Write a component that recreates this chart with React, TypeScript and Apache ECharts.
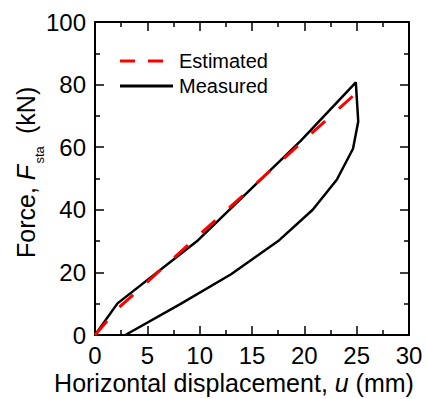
import React, { useEffect, useRef } from "react";
import * as echarts from "echarts";

const FONT = "'Liberation Sans', Arial, Helvetica, sans-serif";

// tick settings (values)
const xMin = 0;
const xMax = 30;
const xStep = 5;
const yMin = 0;
const yMax = 100;
const yStep = 20;

// Estimated (red dashed)
const estimatedX = [0, 2.2, 25.25];
const estimatedY = [0, 8.5, 78.2];

// Measured (black) loading + unloading loop
const measuredX = [0, 2.15, 9.85, 19.65, 24.92, 25.15, 24.65, 23.1, 20.8, 17.5, 13.0, 8.1, 2.9];
const measuredY = [0, 10.1, 30.3, 62.0, 80.7, 68.2, 59.5, 49.6, 40.0, 30.0, 19.4, 9.8, 0];

const seriesNames = ["Estimated", "Measured"];

function axisBase(show: boolean) {
  return {
    axisLine: { show: true, onZero: false, lineStyle: { color: "#000", width: 2 } },
    axisTick: { show: true, inside: true, length: 9, lineStyle: { color: "#000", width: 1.5 } },
    minorTick: { show: true, splitNumber: 2, length: 5, lineStyle: { color: "#000", width: 1.5 } },
    splitLine: { show: false },
    minorSplitLine: { show: false },
    axisLabel: { show, color: "#000", fontSize: 24, fontFamily: FONT },
  };
}

const rotText = (text: string, x: number, y: number, size: number, italic = false) => ({
  type: "text",
  x,
  y,
  rotation: Math.PI / 2,
  style: {
    text,
    fontSize: size,
    fontStyle: italic ? "italic" : "normal",
    fontFamily: FONT,
    fill: "#000",
    align: "left",
    verticalAlign: "middle",
    textAlign: "left",
    textVerticalAlign: "middle",
  },
});

export default function App() {
  const ref = useRef<HTMLDivElement>(null);
  useEffect(() => {
    if (!ref.current) return;
    const chart = echarts.init(ref.current, undefined, { renderer: "svg" });
    const zip = (xs: number[], ys: number[]) => xs.map((x, i) => [x, ys[i]]);
    const xb = axisBase(true);
    const yb = axisBase(true);
    const option: any = {
      animation: false,
      backgroundColor: "#fff",
      grid: { left: 95, right: 17, top: 22, bottom: 64, containLabel: false },
      xAxis: [
        { type: "value", position: "bottom", min: xMin, max: xMax, interval: xStep, ...xb, axisLabel: { ...xb.axisLabel, margin: 8 } },
        { type: "value", position: "top", min: xMin, max: xMax, interval: xStep, ...axisBase(false) },
      ],
      yAxis: [
        { type: "value", position: "left", min: yMin, max: yMax, interval: yStep, ...yb, axisLabel: { ...yb.axisLabel, margin: 9 } },
        { type: "value", position: "right", min: yMin, max: yMax, interval: yStep, ...axisBase(false) },
      ],
      series: [
        {
          name: seriesNames[0],
          type: "line",
          data: zip(estimatedX, estimatedY),
          symbol: "none",
          z: 4,
          lineStyle: { color: "#ff0000", width: 3, type: [18.5, 18.5] },
          itemStyle: { color: "#ff0000" },
        },
        {
          name: seriesNames[1],
          type: "line",
          data: zip(measuredX, measuredY),
          symbol: "none",
          z: 3,
          lineStyle: { color: "#000", width: 2.5 },
          itemStyle: { color: "#000" },
        },
      ],
      graphic: [
        // legend
        {
          type: "line",
          shape: { x1: 120, y1: 61, x2: 163, y2: 61 },
          style: { stroke: "#ff0000", lineWidth: 3, lineDash: [15, 13] },
        },
        {
          type: "text",
          x: 179,
          y: 61.4,
          style: { text: seriesNames[0], fontSize: 20, fontFamily: FONT, fill: "#000", align: "left", verticalAlign: "middle", textAlign: "left", textVerticalAlign: "middle" },
        },
        {
          type: "line",
          shape: { x1: 120, y1: 86, x2: 173, y2: 86 },
          style: { stroke: "#000", lineWidth: 3 },
        },
        {
          type: "text",
          x: 179,
          y: 86.4,
          style: { text: seriesNames[1], fontSize: 20, fontFamily: FONT, fill: "#000", align: "left", verticalAlign: "middle", textAlign: "left", textVerticalAlign: "middle" },
        },
        // x axis title
        {
          type: "text",
          x: 234,
          y: 383,
          style: {
            text: "{n|Horizontal displacement, }{i|u}{n| (mm)}",
            align: "center",
            verticalAlign: "middle",
            textAlign: "center",
            textVerticalAlign: "middle",
            fill: "#000",
            rich: {
              n: { fontSize: 25, fontFamily: FONT, fill: "#000", color: "#000" },
              i: { fontSize: 25, fontFamily: FONT, fontStyle: "italic", fill: "#000", color: "#000" },
            },
          },
        },
        // y axis title
        rotText("Force,", 26.3, 258, 25),
        rotText("F", 26.3, 180.2, 25, true),
        rotText("sta", 39.5, 163.5, 13),
        rotText("(kN)", 26.3, 134, 25),
      ],
    };
    chart.setOption(option);
    return () => chart.dispose();
  }, []);
  return (
    <div
      ref={ref}
      style={{ position: "absolute", left: 0, top: 0, width: 426, height: 399, background: "#fff" }}
    />
  );
}
